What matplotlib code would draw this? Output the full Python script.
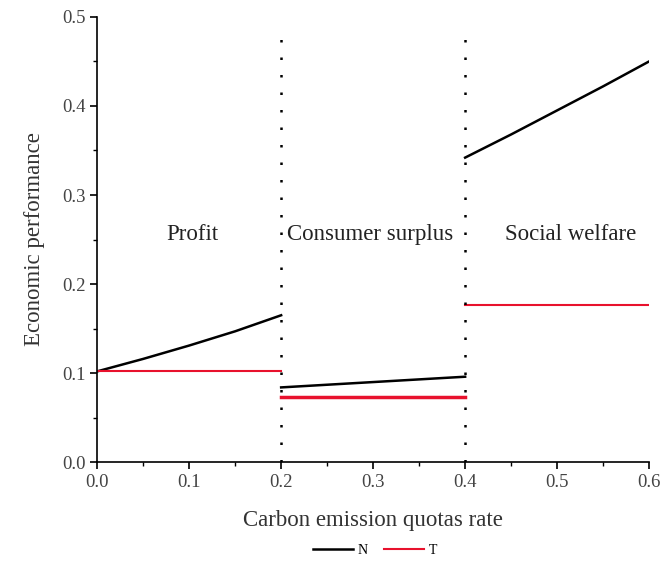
import numpy as np
import matplotlib
matplotlib.use("Agg")
import matplotlib.pyplot as plt
from matplotlib.ticker import MultipleLocator

plt.rcParams['font.family'] = ['Liberation Serif', 'DejaVu Serif']

# --- data ---
x_profit = [0.0, 0.05, 0.10, 0.15, 0.20]
x_cs = [0.20, 0.25, 0.30, 0.35, 0.40]
x_sw = [0.40, 0.45, 0.50, 0.55, 0.60]

n_profit = [0.102, 0.116, 0.131, 0.147, 0.165]
n_cs = [0.084, 0.087, 0.090, 0.093, 0.096]
n_sw = [0.342, 0.368, 0.395, 0.422, 0.450]

t_profit = [0.102, 0.102, 0.102, 0.102, 0.102]
t_cs = [0.073, 0.073, 0.073, 0.073, 0.073]
t_sw = [0.177, 0.177, 0.177, 0.177, 0.177]

region_names = ['Profit', 'Consumer surplus', 'Social welfare']
region_x = [0.103, 0.297, 0.515]
region_y = 0.256
dividers = [0.2, 0.4]

# --- figure ---
fig = plt.figure(figsize=(6.61, 5.63), dpi=100)
ax = fig.add_axes([0.147, 0.179, 0.835, 0.791])

ax.plot(x_profit, n_profit, color='black', lw=1.8, label='N')
ax.plot(x_cs, n_cs, color='black', lw=1.8)
ax.plot(x_sw, n_sw, color='black', lw=1.8)

ax.plot(x_profit, t_profit, color='#e8112d', lw=1.5, label='T')
ax.plot(x_cs, t_cs, color='#e8112d', lw=2.5)
ax.plot(x_sw, t_sw, color='#e8112d', lw=1.5)

# dotted separators between the three panels
for d in dividers:
    ax.plot([d, d], [0, 0.485], color='black', lw=1.8, linestyle=(0, (1, 6)))

for name, xc in zip(region_names, region_x):
    ax.text(xc, region_y, name, ha='center', va='center', fontsize=16.5, color='#222222')

ax.set_xlim(0, 0.6)
ax.set_ylim(0, 0.5)
ax.xaxis.set_major_locator(MultipleLocator(0.1))
ax.xaxis.set_minor_locator(MultipleLocator(0.05))
ax.yaxis.set_major_locator(MultipleLocator(0.1))
ax.yaxis.set_minor_locator(MultipleLocator(0.05))
ax.xaxis.set_major_formatter(plt.FuncFormatter(lambda v, p: f'{v:.1f}'))
ax.yaxis.set_major_formatter(plt.FuncFormatter(lambda v, p: f'{v:.1f}'))

ax.spines['top'].set_visible(False)
ax.spines['right'].set_visible(False)
ax.spines['left'].set_linewidth(1.2)
ax.spines['bottom'].set_linewidth(1.2)
ax.tick_params(which='major', direction='out', length=5, width=1.2, labelsize=13.5, labelcolor='#444444')
ax.tick_params(which='minor', direction='out', length=3, width=1.0)

ax.set_xlabel('Carbon emission quotas rate', fontsize=16.5, color='#333333', labelpad=14)
ax.set_ylabel('Economic performance', fontsize=16.5, color='#333333', labelpad=12)

fig.legend(loc='center', bbox_to_anchor=(0.567, 0.022), ncol=2, frameon=False,
           fontsize=10, handlelength=2.9, columnspacing=1.2, handletextpad=0.3)

fig.savefig('out.png', dpi=100)
